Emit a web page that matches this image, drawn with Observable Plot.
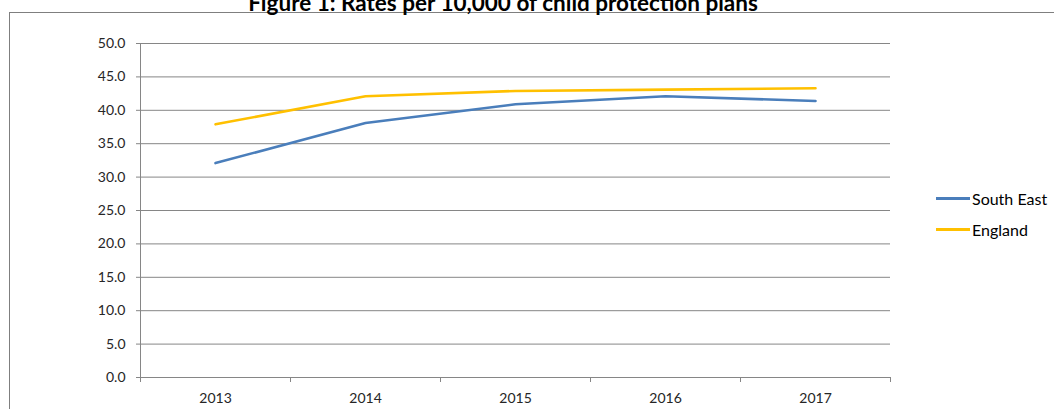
<!DOCTYPE html>
<html>
<head>
<meta charset="utf-8">
<script src="https://cdn.jsdelivr.net/npm/d3@7"></script>
<script src="https://cdn.jsdelivr.net/npm/@observablehq/plot@0.6"></script>
<style>
  html, body { margin: 0; padding: 0; background: #fff; overflow: hidden; }
  #wrap { position: relative; width: 1054px; height: 409px; overflow: hidden; font-family: Lato, "Open Sans", sans-serif; }
  #frame { position: absolute; left: 9px; top: 12px; width: 1200px; height: 600px; border: 1px solid #7f7f7f; box-sizing: border-box; }
  #title { position: absolute; left: 0; width: 1006px; top: -8px; text-align: center; font-weight: bold; font-size: 22.5px; line-height: 22px; color: #000; white-space: nowrap; }
  #chart { position: absolute; left: 0; top: 0; }
  #legend { position: absolute; left: 936px; top: 188px; font-size: 16px; color: #000; }
  .item { display: flex; align-items: center; height: 20px; margin-bottom: 11px; }
  .sw { width: 34px; height: 3px; margin-right: 2px; }
</style>
</head>
<body>
<div id="wrap">
  <div id="frame"></div>
  <div id="title">Figure 1: Rates per 10,000 of child protection plans</div>
  <div id="chart"></div>
  <div id="legend"></div>
</div>
<script>
const years = [2013, 2014, 2015, 2016, 2017];
const seriesNames = ["South East", "England"];
const southEast = [32.1, 38.1, 40.9, 42.1, 41.4];
const england = [37.9, 42.1, 42.9, 43.1, 43.3];
const yTicks = [0, 5, 10, 15, 20, 25, 30, 35, 40, 45, 50];
const colors = ["#4a7ebb", "#ffc000"];

const data = [];
years.forEach((yr, i) => {
  data.push({year: yr, value: southEast[i], series: seriesNames[0]});
  data.push({year: yr, value: england[i], series: seriesNames[1]});
});
const bounds = years.map(y => y - 0.5).concat([years[years.length - 1] + 0.5]);
const gray = "#868686";

const chart = Plot.plot({
  width: 1054,
  height: 409,
  marginTop: 43,
  marginBottom: 32,
  marginLeft: 140,
  marginRight: 164,
  style: {fontFamily: "Lato, 'Open Sans', sans-serif", background: "transparent", overflow: "visible"},
  x: {type: "linear", domain: [bounds[0], bounds[bounds.length - 1]]},
  y: {domain: [0, 50]},
  color: {domain: seriesNames, range: colors},
  marks: [
    Plot.gridY(yTicks, {stroke: gray, strokeOpacity: 1}),
    Plot.ruleX([bounds[0]], {stroke: gray}),
    Plot.ruleY([0], {stroke: gray}),
    Plot.axisY(yTicks, {tickSize: 4, tickPadding: 11, stroke: gray, fill: "#262626", fontSize: 14, tickFormat: d3.format(".1f"), label: null}),
    Plot.axisX(bounds, {tickSize: 5, stroke: gray, tickFormat: () => "", label: null}),
    Plot.axisX(years, {tickSize: 0, tickPadding: 16, fill: "#262626", fontSize: 14, tickFormat: d => String(d), label: null}),
    Plot.line(data, {x: "year", y: "value", stroke: "series", strokeWidth: 2.6, z: "series"})
  ]
});
document.getElementById("chart").appendChild(chart);

const legend = document.getElementById("legend");
seriesNames.forEach((name, i) => {
  const item = document.createElement("div");
  item.className = "item";
  const sw = document.createElement("div");
  sw.className = "sw";
  sw.style.background = colors[i];
  const t = document.createElement("span");
  t.textContent = name;
  item.appendChild(sw);
  item.appendChild(t);
  legend.appendChild(item);
});
</script>
</body>
</html>
